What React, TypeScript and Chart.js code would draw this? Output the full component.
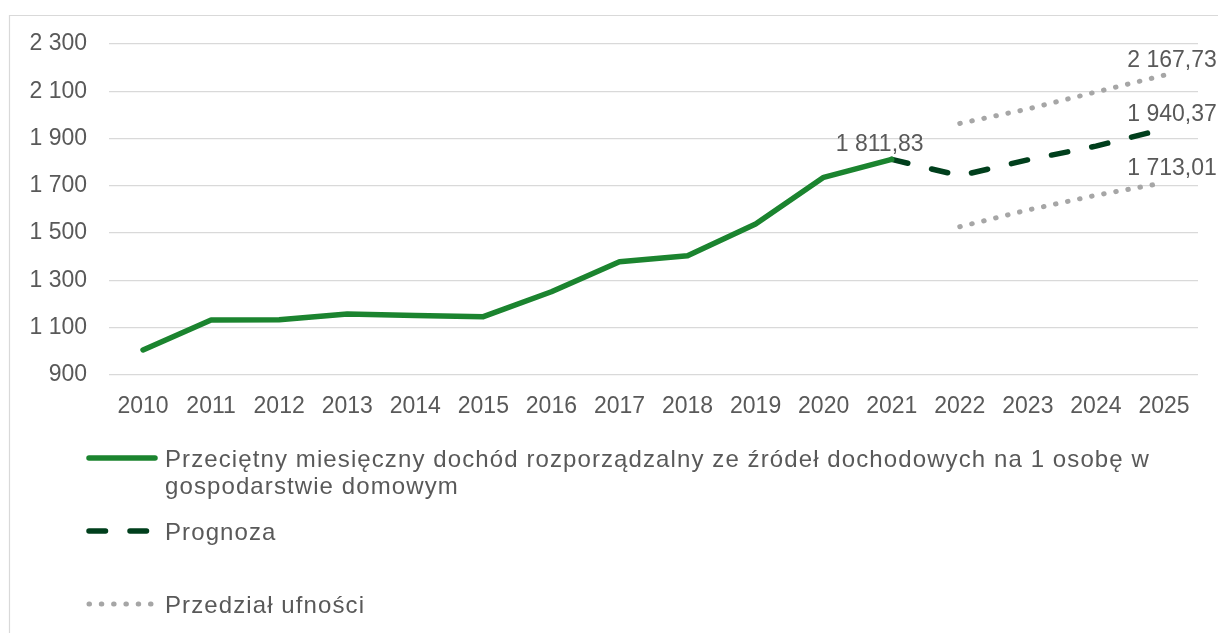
import React, { useEffect, useRef } from "react";
import { Chart, registerables } from "chart.js";

Chart.register(...registerables);

// ---- data ----
const years = [
  "2010", "2011", "2012", "2013", "2014", "2015", "2016", "2017",
  "2018", "2019", "2020", "2021", "2022", "2023", "2024", "2025",
];
const incomeValues: (number | null)[] = [
  1005.7, 1132.6, 1133.5, 1158, 1152, 1146.6, 1252, 1379, 1404.5, 1538.6, 1736, 1811.83,
  null, null, null, null,
];
const forecastValues: (number | null)[] = [
  null, null, null, null, null, null, null, null, null, null, null, 1811.83,
  1743, 1810, 1868, 1940.37,
];
const upperValues: (number | null)[] = [
  null, null, null, null, null, null, null, null, null, null, null, null,
  1964, 2025, 2097, 2167.73,
];
const lowerValues: (number | null)[] = [
  null, null, null, null, null, null, null, null, null, null, null, null,
  1527, 1598, 1660, 1713.01,
];
const yMin = 900;
const yMax = 2300;
const yStep = 200;

const seriesLabels = [
  "Przeciętny miesięczny dochód rozporządzalny ze źródeł dochodowych na 1 osobę w gospodarstwie domowym",
  "Prognoza",
  "Przedział ufności",
];
const legendLines = [
  ["Przeciętny miesięczny dochód rozporządzalny ze źródeł dochodowych na 1 osobę w", "gospodarstwie domowym"],
  ["Prognoza"],
  ["Przedział ufności"],
];
// which points carry a value label: [datasetIndex, pointIndex, dx]
const labelledPoints: [number, number, number][] = [
  [0, 11, -12],
  [1, 15, 8],
  [2, 15, 8],
  [3, 15, 8],
];

// ---- style ----
const FONT = "'Liberation Sans', Arial, sans-serif";
const TEXT = "#595959";
const GREEN = "#1b842f";
const DARK = "#003f1c";
const GREY = "#a6a6a6";
const DASH = [16.5, 24.5];
const DOT = [0.5, 11.8];
const LEGEND_LINE1_WIDTH = 985;

function groupThousands(s: string) {
  return s.replace(/\B(?=(\d{3})+(?!\d))/g, " ");
}
function fmtTick(v: number) {
  return groupThousands(String(Math.round(v)));
}
function fmtValue(v: number) {
  const [i, d] = v.toFixed(2).split(".");
  return groupThousands(i) + "," + d;
}

const customPlugin = {
  id: "customDecor",
  beforeDraw(chart: any) {
    const ctx = chart.ctx;
    ctx.save();
    ctx.strokeStyle = "#d9d9d9";
    ctx.lineWidth = 1.2;
    ctx.beginPath();
    ctx.moveTo(9.5, chart.height + 2);
    ctx.lineTo(9.5, 15.5);
    ctx.lineTo(chart.width + 2, 15.5);
    ctx.stroke();
    ctx.restore();
  },
  afterDatasetsDraw(chart: any) {
    const ctx = chart.ctx;
    ctx.save();
    ctx.font = `23px ${FONT}`;
    ctx.fillStyle = TEXT;
    ctx.textAlign = "center";
    ctx.textBaseline = "alphabetic";
    for (const [di, pi, dx] of labelledPoints) {
      const meta = chart.getDatasetMeta(di);
      const pt = meta.data[pi];
      const v = chart.data.datasets[di].data[pi];
      if (!pt || v == null) continue;
      ctx.fillText(fmtValue(v), pt.x + dx, pt.y - 8);
    }
    ctx.restore();
  },
  afterDraw(chart: any) {
    const ctx = chart.ctx;
    const ds = chart.data.datasets;
    const x0 = 89;
    const x1 = 155;
    const textX = 165;
    const items = [
      { baseline: 467, ds: ds[0] },
      { baseline: 540, ds: ds[1] },
      { baseline: 613, ds: ds[2] },
    ];
    ctx.save();
    ctx.font = `24px ${FONT}`;
    const first = legendLines[0][0];
    const measured = ctx.measureText(first).width;
    const spacing = Math.max(0, (LEGEND_LINE1_WIDTH - measured) / first.length);
    items.forEach((it, i) => {
      const y = it.baseline - 9;
      ctx.beginPath();
      ctx.strokeStyle = it.ds.borderColor;
      ctx.lineWidth = it.ds.borderWidth;
      ctx.lineCap = "round";
      ctx.setLineDash(it.ds.borderDash || []);
      ctx.moveTo(x0, y);
      ctx.lineTo(i === 2 ? 153 : x1, y);
      ctx.stroke();
      ctx.setLineDash([]);
      ctx.font = `24px ${FONT}`;
      if ("letterSpacing" in ctx) (ctx as any).letterSpacing = `${spacing.toFixed(2)}px`;
      ctx.fillStyle = TEXT;
      ctx.textAlign = "left";
      ctx.textBaseline = "alphabetic";
      legendLines[i].forEach((line, li) => {
        ctx.fillText(line, textX, it.baseline + li * 27);
      });
      if ("letterSpacing" in ctx) (ctx as any).letterSpacing = "0px";
    });
    ctx.restore();
  },
};

export default function App() {
  const ref = useRef<HTMLCanvasElement | null>(null);

  useEffect(() => {
    if (!ref.current) return;
    const chart = new Chart(ref.current, {
      type: "line",
      data: {
        labels: years,
        datasets: [
          {
            label: seriesLabels[0],
            data: incomeValues,
            borderColor: GREEN,
            backgroundColor: GREEN,
            borderWidth: 5.5,
            pointRadius: 0,
            borderCapStyle: "round",
            borderJoinStyle: "round",
            tension: 0,
          },
          {
            label: seriesLabels[1],
            data: forecastValues,
            borderColor: DARK,
            backgroundColor: DARK,
            borderWidth: 5.5,
            borderDash: DASH,
            pointRadius: 0,
            borderCapStyle: "round",
            borderJoinStyle: "round",
            tension: 0,
          },
          {
            label: seriesLabels[2],
            data: upperValues,
            borderColor: GREY,
            backgroundColor: GREY,
            borderWidth: 5,
            borderDash: DOT,
            pointRadius: 0,
            borderCapStyle: "round",
            tension: 0,
          },
          {
            label: seriesLabels[2],
            data: lowerValues,
            borderColor: GREY,
            backgroundColor: GREY,
            borderWidth: 5,
            borderDash: DOT,
            pointRadius: 0,
            borderCapStyle: "round",
            tension: 0,
          },
        ],
      },
      options: {
        animation: false,
        responsive: false,
        events: [],
        layout: { padding: { left: 0, top: 44, right: 20, bottom: 198 } },
        plugins: {
          legend: { display: false },
          tooltip: { enabled: false },
        },
        scales: {
          x: {
            type: "category",
            offset: true,
            grid: { display: false, drawTicks: false },
            border: { display: false },
            ticks: {
              color: TEXT,
              font: { family: FONT, size: 23 },
              padding: 18,
              maxRotation: 0,
              autoSkip: false,
            },
            afterFit: (s: any) => {
              s.height = 60;
            },
          },
          y: {
            min: yMin,
            max: yMax,
            grid: { color: "#d9d9d9", lineWidth: 1.3, drawTicks: false },
            border: { display: false },
            ticks: {
              stepSize: yStep,
              color: TEXT,
              font: { family: FONT, size: 23 },
              padding: 22,
              callback: (v: any) => fmtTick(Number(v)),
            },
            afterFit: (s: any) => {
              s.width = 109;
            },
          },
        },
      },
      plugins: [customPlugin],
    } as any);
    return () => chart.destroy();
  }, []);

  return (
    <div style={{ position: "absolute", left: 0, top: 0, width: 1218, height: 633, background: "#fff" }}>
      <canvas ref={ref} width={1218} height={633} style={{ display: "block" }} />
    </div>
  );
}
